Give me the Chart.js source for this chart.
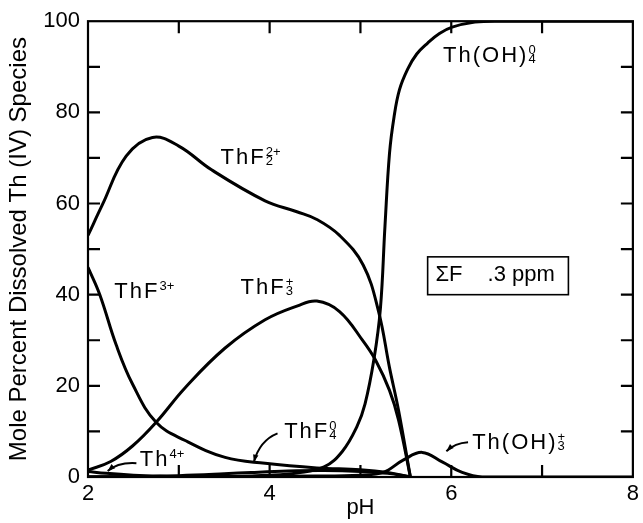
<!DOCTYPE html>
<html>
<head>
<meta charset="utf-8">
<script src="https://cdn.jsdelivr.net/npm/chart.js@4.4.1/dist/chart.umd.min.js"></script>
<style>
  html, body { margin: 0; padding: 0; background: #fff; }
</style>
</head>
<body>
<canvas id="thChart" width="643" height="523"></canvas>
<script>
// Th(IV) species distribution, sum F = .3 ppm
var thf2PH   = [2.0, 2.16, 2.42, 2.71, 3.0, 3.36, 3.95, 4.3, 4.52, 4.77, 5.03, 5.2, 5.32, 5.42, 5.55];
var thf2Pct  = [53, 59.8, 70.4, 74.5, 72.6, 67.4, 60.6, 58.2, 56.5, 53, 46.5, 36.3, 24, 14.6, 0];

var thf3PH   = [2.0, 2.25, 2.49, 2.75, 3.07, 3.51, 3.95, 4.3, 4.52, 4.77, 5.03, 5.17, 5.32, 5.42, 5.55];
var thf3Pct  = [1.5, 3.4, 6.8, 12, 19.6, 28.3, 34.5, 37.5, 38.6, 36.3, 29.8, 25.5, 19, 12.5, 0];

var thfPH    = [2.0, 2.13, 2.31, 2.49, 2.75, 3.07, 3.51, 3.95, 4.52, 5.0, 5.3, 5.55];
var thfPct   = [46, 40, 29, 20.4, 12, 8, 4.3, 3, 2, 1.6, 1.0, 0];

var thoh4PH  = [2.0, 3.0, 3.5, 4.0, 4.3, 4.6, 4.8, 4.96, 5.05, 5.15, 5.22, 5.27, 5.32, 5.37, 5.43, 5.52, 5.62, 5.74, 5.87, 6.01, 6.26, 6.5, 8.0];
var thoh4Pct = [0, 0, 0.1, 0.4, 0.9, 2.2, 5.6, 11, 16, 26, 37, 55, 71, 79, 85, 89.5, 92.8, 95.2, 97.3, 98.7, 99.8, 100, 100];

var thoh3PH  = [2.0, 4.5, 5.0, 5.25, 5.47, 5.68, 5.9, 6.12, 6.34, 8.0];
var thoh3Pct = [0, 0.2, 0.4, 1, 3.7, 5.4, 3.3, 1, 0, 0];

var thf4PH   = [2.0, 2.5, 3.0, 3.5, 3.8, 4.2, 4.6, 5.0, 5.3, 5.55];
var thf4Pct  = [0, 0.1, 0.3, 0.7, 1.0, 1.3, 1.4, 1.2, 0.8, 0];

var th4PH    = [2.0, 2.2, 2.5, 2.8, 3.2, 4.0];
var th4Pct   = [1.2, 0.8, 0.4, 0.2, 0.1, 0];

var xTicks = [2, 4, 6, 8];
var yTicks = [0, 20, 40, 60, 80, 100];

// species labels: base text, superscript, subscript, anchor (pH, %)
var speciesLabels = [
  { base: 'Th(OH)', sup: '0',  sub: '4', x: 5.91, y: 92.8 },
  { base: 'ThF',    sup: '2+', sub: '2', x: 3.46, y: 70.4 },
  { base: 'ThF',    sup: '3+', sub: '',  x: 2.29, y: 41.1 },
  { base: 'ThF',    sup: '+',  sub: '3', x: 3.68, y: 42.0 },
  { base: 'ThF',    sup: '0',  sub: '4', x: 4.16, y: 10.4 },
  { base: 'Th',     sup: '4+', sub: '',  x: 2.57, y: 4.1 },
  { base: 'Th(OH)', sup: '+',  sub: '3', x: 6.23, y: 7.8 }
];

// pointer arrows: start, control, end (pH, %)
var pointers = [
  [[2.533, 3.04], [2.33, 3.3], [2.217, 1.3]],
  [[4.087, 9.57], [3.89, 8.0], [3.826, 3.26]],
  [[6.185, 7.6], [6.04, 7.4], [5.946, 5.65]]
];

function pts(xs, ys) {
  return xs.map(function(x, i) { return { x: x, y: ys[i] }; });
}

function curve(data) {
  return {
    data: data,
    borderColor: '#000',
    borderWidth: 3,
    pointRadius: 0,
    fill: false,
    tension: 0.4
  };
}

var FONT = '"Liberation Sans", Arial, Helvetica, sans-serif';

function chem(ctx, x, y, l) {
  ctx.font = '22px ' + FONT;
  ctx.letterSpacing = '2px';
  ctx.textBaseline = 'alphabetic';
  ctx.textAlign = 'left';
  var base = y + 8;
  ctx.fillText(l.base, x, base);
  var w = ctx.measureText(l.base).width;
  ctx.font = '13px ' + FONT;
  ctx.letterSpacing = '0px';
  if (l.sup) ctx.fillText(l.sup, x + w, base - 8);
  if (l.sub) ctx.fillText(l.sub, x + w, base + 1);
}

var decor = {
  id: 'decor',
  afterDatasetsDraw: function(chart) {
    var ctx = chart.ctx, a = chart.chartArea;
    var xs = chart.scales.x, ys = chart.scales.y;
    ctx.save();
    ctx.strokeStyle = '#000';
    ctx.fillStyle = '#000';
    ctx.lineWidth = 2.2;
    ctx.strokeRect(a.left, a.top, a.right - a.left, a.bottom - a.top);

    // inward tick marks on all four sides
    ctx.beginPath();
    for (var v = 3; v < 8; v++) {
      var px = xs.getPixelForValue(v);
      ctx.moveTo(px, a.bottom); ctx.lineTo(px, a.bottom - 12);
      ctx.moveTo(px, a.top); ctx.lineTo(px, a.top + 12);
    }
    for (var p = 10; p < 100; p += 10) {
      var py = ys.getPixelForValue(p);
      ctx.moveTo(a.left, py); ctx.lineTo(a.left + 12, py);
      ctx.moveTo(a.right, py); ctx.lineTo(a.right - 12, py);
    }
    ctx.stroke();

    // species labels
    speciesLabels.forEach(function(l) {
      chem(ctx, xs.getPixelForValue(l.x), ys.getPixelForValue(l.y), l);
    });

    // arrows
    ctx.lineWidth = 2;
    pointers.forEach(function(pp) {
      var s = [xs.getPixelForValue(pp[0][0]), ys.getPixelForValue(pp[0][1])];
      var c = [xs.getPixelForValue(pp[1][0]), ys.getPixelForValue(pp[1][1])];
      var e = [xs.getPixelForValue(pp[2][0]), ys.getPixelForValue(pp[2][1])];
      ctx.beginPath();
      ctx.moveTo(s[0], s[1]);
      ctx.quadraticCurveTo(c[0], c[1], e[0], e[1]);
      ctx.stroke();
      var ang = Math.atan2(e[1] - c[1], e[0] - c[0]);
      ctx.beginPath();
      ctx.moveTo(e[0], e[1]);
      ctx.lineTo(e[0] - 8 * Math.cos(ang - 0.35), e[1] - 8 * Math.sin(ang - 0.35));
      ctx.lineTo(e[0] - 8 * Math.cos(ang + 0.35), e[1] - 8 * Math.sin(ang + 0.35));
      ctx.closePath();
      ctx.fill();
    });

    // sum F box
    var bx0 = xs.getPixelForValue(5.74), bx1 = xs.getPixelForValue(7.29);
    var by0 = ys.getPixelForValue(48.3), by1 = ys.getPixelForValue(40.0);
    ctx.lineWidth = 1.6;
    ctx.strokeRect(bx0, by0, bx1 - bx0, by1 - by0);
    ctx.font = '22px ' + FONT;
    ctx.letterSpacing = '0px';
    ctx.textBaseline = 'middle';
    var ty = ys.getPixelForValue(44.3);
    ctx.fillText('\u03A3F', xs.getPixelForValue(5.826), ty);
    ctx.fillText('.3 ppm', xs.getPixelForValue(6.40), ty);
    ctx.restore();
  }
};

new Chart(document.getElementById('thChart').getContext('2d'), {
  type: 'line',
  data: {
    datasets: [
      curve(pts(thf2PH, thf2Pct)),
      curve(pts(thf3PH, thf3Pct)),
      curve(pts(thfPH, thfPct)),
      curve(pts(thoh4PH, thoh4Pct)),
      curve(pts(thoh3PH, thoh3Pct)),
      curve(pts(thf4PH, thf4Pct)),
      curve(pts(th4PH, th4Pct))
    ]
  },
  options: {
    responsive: false,
    animation: false,
    layout: { padding: { top: 17, right: 3, left: 0, bottom: 0 } },
    plugins: { legend: { display: false }, tooltip: { enabled: false } },
    scales: {
      x: {
        type: 'linear',
        min: 2, max: 8,
        afterBuildTicks: function(s) { s.ticks = xTicks.map(function(v) { return { value: v }; }); },
        afterFit: function(s) { s.height = 46; },
        grid: { display: false, drawTicks: false },
        border: { display: false },
        ticks: { color: '#000', padding: 4, maxRotation: 0, font: { family: FONT, size: 22 } },
        title: { display: true, text: 'pH', color: '#000', padding: { top: 0, bottom: 2 }, font: { family: FONT, size: 22 } }
      },
      y: {
        min: 0, max: 100,
        afterBuildTicks: function(s) { s.ticks = yTicks.map(function(v) { return { value: v }; }); },
        afterFit: function(s) { s.width = 88; },
        grid: { display: false, drawTicks: false },
        border: { display: false },
        ticks: { color: '#000', padding: 8, font: { family: FONT, size: 22 } },
        title: { display: true, text: 'Mole Percent Dissolved Th (IV) Species', color: '#000', padding: { top: 5, bottom: 0 }, font: { family: FONT, size: 24 } }
      }
    }
  },
  plugins: [decor]
});
</script>
</body>
</html>
